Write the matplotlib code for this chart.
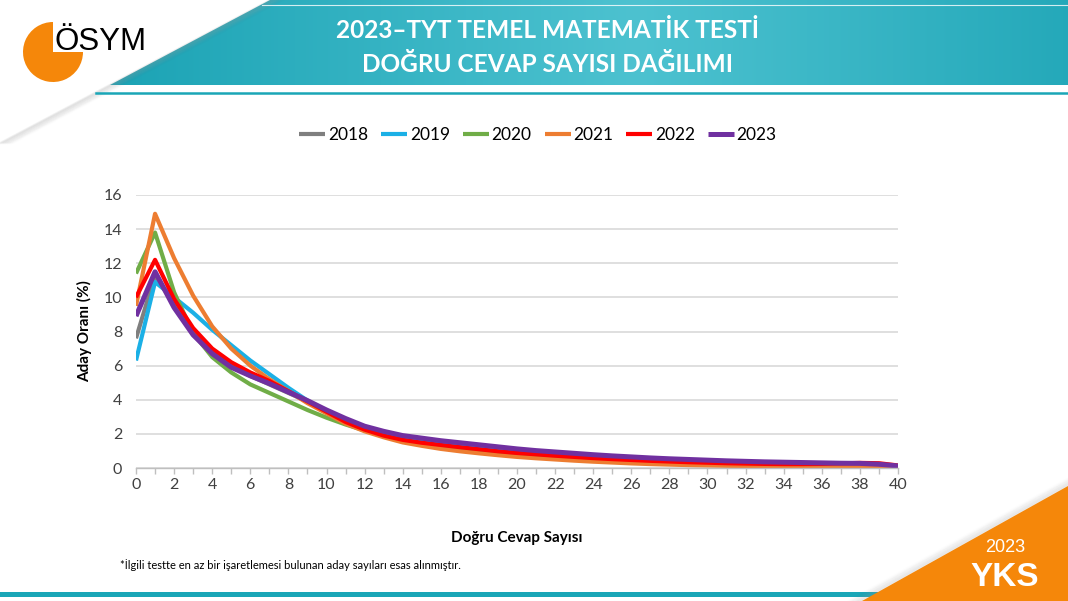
import numpy as np
import matplotlib
matplotlib.use("Agg")
import matplotlib.pyplot as plt
from matplotlib.patches import Polygon, Wedge
from matplotlib.lines import Line2D

# ---------------- data ----------------
x_values = list(range(0, 41))
years = ["2018", "2019", "2020", "2021", "2022", "2023"]

s2018 = [7.6, 11.3, 9.6, 8.0, 6.8, 6.0, 5.4, 4.9, 4.4, 3.9, 3.35, 2.85, 2.4, 2.05, 1.8, 1.6, 1.45, 1.32, 1.2, 1.08,
         0.97, 0.87, 0.78, 0.7, 0.62, 0.55, 0.49, 0.43, 0.38, 0.34, 0.3, 0.27, 0.24, 0.22, 0.2, 0.18, 0.17, 0.16, 0.15, 0.14, 0.1]
s2019 = [6.3, 10.9, 10.0, 9.1, 8.1, 7.2, 6.3, 5.5, 4.7, 3.95, 3.35, 2.8, 2.35, 2.0, 1.75, 1.55, 1.4, 1.26, 1.14, 1.02,
         0.92, 0.83, 0.75, 0.67, 0.6, 0.53, 0.47, 0.42, 0.37, 0.33, 0.29, 0.26, 0.23, 0.21, 0.19, 0.17, 0.16, 0.15, 0.14, 0.13, 0.1]
s2020 = [11.4, 13.8, 10.3, 7.9, 6.5, 5.6, 4.9, 4.4, 3.9, 3.4, 2.95, 2.55, 2.2, 1.9, 1.65, 1.45, 1.3, 1.15, 1.03, 0.92,
         0.82, 0.73, 0.65, 0.57, 0.5, 0.44, 0.38, 0.33, 0.28, 0.24, 0.2, 0.17, 0.15, 0.13, 0.12, 0.11, 0.1, 0.1, 0.1, 0.1, 0.08]
s2021 = [9.5, 14.9, 12.3, 10.1, 8.3, 7.0, 6.0, 5.2, 4.5, 3.8, 3.2, 2.6, 2.15, 1.8, 1.5, 1.3, 1.12, 0.98, 0.86, 0.75,
         0.65, 0.57, 0.5, 0.43, 0.37, 0.32, 0.27, 0.23, 0.2, 0.17, 0.15, 0.13, 0.12, 0.11, 0.1, 0.1, 0.1, 0.1, 0.1, 0.1, 0.08]
s2022 = [10.0, 12.2, 9.9, 8.2, 7.0, 6.2, 5.6, 5.1, 4.5, 3.9, 3.3, 2.7, 2.25, 1.9, 1.65, 1.48, 1.35, 1.22, 1.1, 0.98,
         0.88, 0.8, 0.72, 0.65, 0.58, 0.52, 0.47, 0.42, 0.38, 0.34, 0.31, 0.28, 0.26, 0.24, 0.23, 0.23, 0.24, 0.27, 0.3, 0.28, 0.15]
s2023 = [8.9, 11.5, 9.4, 7.8, 6.7, 5.9, 5.4, 4.95, 4.45, 3.95, 3.4, 2.9, 2.45, 2.15, 1.9, 1.75, 1.6, 1.48, 1.36, 1.24,
         1.12, 1.02, 0.94, 0.86, 0.78, 0.71, 0.65, 0.59, 0.54, 0.5, 0.46, 0.42, 0.39, 0.36, 0.34, 0.32, 0.3, 0.28, 0.27, 0.22, 0.12]

series = [s2018, s2019, s2020, s2021, s2022, s2023]
colors = ["#7f7f7f", "#1bb0e6", "#70ad47", "#ed7d31", "#ff0000", "#7030a0"]
widths = [3.0, 3.0, 3.0, 3.0, 3.0, 3.6]

x_ticks = list(range(0, 41, 2))
y_ticks = list(range(0, 17, 2))

title_lines = ["2023\u2013TYT TEMEL MATEMAT\u0130K TEST\u0130", "DO\u011eRU CEVAP SAYISI DA\u011eILIMI"]
x_label = "Do\u011fru Cevap Say\u0131s\u0131"
y_label = "Aday Oran\u0131 (%)"
footnote = "*\u0130lgili testte en az bir i\u015faretlemesi bulunan aday say\u0131lar\u0131 esas al\u0131nm\u0131\u015ft\u0131r."

W, H = 1068, 601
fig = plt.figure(figsize=(W / 100, H / 100), dpi=100)
fig.patch.set_facecolor("white")

# ---------------- slide background ----------------
bg = fig.add_axes([0, 0, 1, 1])
bg.set_xlim(0, W)
bg.set_ylim(H, 0)
bg.axis("off")
bg.set_zorder(0)

teal = "#1aa6b7"
# header band with gradient
band = Polygon([(270, 0), (W, 0), (W, 85), (110, 85)], closed=True, facecolor="none", edgecolor="none")
bg.add_patch(band)
gx = np.linspace(0, 1, 400)
grad = 1 - np.abs(gx - 0.55) * 1.6
grad = np.clip(grad, 0, 1)
c0 = np.array([0x15, 0x9f, 0xb1]) / 255
c1 = np.array([0x4d, 0xc2, 0xd0]) / 255
img = c0[None, None, :] + (c1 - c0)[None, None, :] * grad[None, :, None]
img = np.repeat(img, 2, axis=0)
im = bg.imshow(img, extent=(110, W, 85, 0), aspect="auto", zorder=1)
im.set_clip_path(band)
bg.plot([262, W], [5, 5], color="white", lw=0.8, alpha=0.8, zorder=2)
bg.plot([96, W], [93, 93], color=teal, lw=1.8, zorder=2)

# diagonal shadow
for k in range(12):
    off = k * 1.2
    bg.plot([270 + off, 0 + off], [0, 143], color="#9a9a9a", alpha=0.10 * (1 - k / 12), lw=1.5, zorder=1.5)

# logo
bg.add_patch(Wedge((53, 52), 30, 0, 270, facecolor="#f5870a", edgecolor="none", zorder=3))
bg.text(54, 50, "\u00d6SYM", fontsize=22.5, family="Liberation Sans", color="black", ha="left", va="baseline", zorder=4)

# title
bg.text(548, 30, title_lines[0], fontsize=17.6, fontweight="bold", family="Lato", color="white", ha="center", va="center", zorder=4)
bg.text(548, 65, title_lines[1], fontsize=17.6, fontweight="bold", family="Lato", color="white", ha="center", va="center", zorder=4)

# bottom teal line
bg.add_patch(Polygon([(0, 592), (900, 592), (900, 597), (0, 597)], closed=True, facecolor=teal, edgecolor="none", zorder=1))
# orange corner triangle with shadow
for k in range(10):
    off = k * 1.5
    bg.plot([862 - off, W], [601, 486 - off * 0.55], color="#9a9a9a", alpha=0.08 * (1 - k / 10), lw=2, zorder=1.5)
bg.add_patch(Polygon([(862, 601), (W, 486), (W, H)], closed=True, facecolor="#f5870a", edgecolor="none", zorder=3))
bg.text(1005, 548, "2023", fontsize=13, family="Liberation Sans", color="white", ha="center", va="center", zorder=4)
bg.text(1005, 577, "YKS", fontsize=24, fontweight="bold", family="Liberation Sans", color="white", ha="center", va="center", zorder=4)

# footnote
bg.text(120, 565, footnote, fontsize=8, family="Lato", color="black", ha="left", va="center", zorder=4)

# ---------------- chart ----------------
ax = fig.add_axes([136 / W, 1 - 468 / H, (898 - 136) / W, (468 - 195) / H])
ax.set_zorder(5)
ax.patch.set_alpha(0)
handles = []
for name, s, c, lw in zip(years, series, colors, widths):
    ln, = ax.plot(x_values, s, color=c, lw=lw, solid_joinstyle="round", solid_capstyle="butt", label=name)
    handles.append(ln)

ax.set_xlim(0, 40)
ax.set_ylim(0, 16)
ax.set_xticks(x_ticks)
ax.set_xticks(list(range(0, 41)), minor=True)
ax.set_yticks(y_ticks)
ax.yaxis.grid(True, color="#d9d9d9", lw=1.2)
ax.set_axisbelow(True)
for sp in ["top", "right", "left"]:
    ax.spines[sp].set_visible(False)
ax.spines["bottom"].set_color("#bfbfbf")
ax.spines["bottom"].set_linewidth(1.0)
ax.tick_params(axis="x", which="both", direction="out", length=4, color="#bfbfbf", width=1)
ax.tick_params(axis="y", length=0, pad=10)
ax.tick_params(axis="both", labelsize=11.5, labelcolor="#404040")
for lab in ax.get_xticklabels() + ax.get_yticklabels():
    lab.set_family("Lato")
ax.set_xlabel(x_label, fontsize=11, fontweight="bold", family="Lato", labelpad=28)
ax.set_ylabel(y_label, fontsize=11, fontweight="bold", family="Lato", labelpad=8)

leg = fig.legend(handles=handles, labels=years, loc="center", bbox_to_anchor=(538 / W, 1 - 135 / H),
                 ncol=6, frameon=False, handlelength=1.5, handletextpad=0.15, columnspacing=0.75,
                 prop={"family": "Lato", "size": 12.5})

fig.savefig("out.png", dpi=100)
